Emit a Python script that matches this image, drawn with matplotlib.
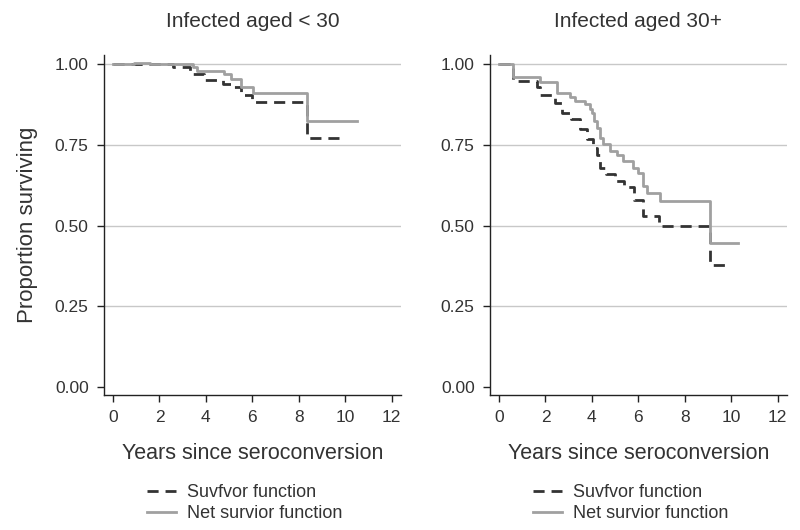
import matplotlib
matplotlib.use("Agg")
import matplotlib.pyplot as plt

plt.rcParams['font.family'] = ['Liberation Sans', 'DejaVu Sans']

# Infected aged < 30: step times (years) and survival after each step
young_surv_t = [0, 2.6, 3.3, 3.9, 4.75, 5.1, 5.5, 6.0, 8.35, 9.8]
young_surv_s = [1.0, 0.992, 0.971, 0.953, 0.94, 0.93, 0.904, 0.882, 0.772, 0.772]
young_net_t = [0, 0.9, 1.6, 3.45, 3.6, 4.8, 5.1, 5.5, 6.05, 8.35, 10.5]
young_net_s = [1.0, 1.004, 1.0, 0.992, 0.979, 0.969, 0.956, 0.93, 0.911, 0.826, 0.826]

# Infected aged 30+
old_surv_t = [0, 0.62, 1.62, 1.77, 2.4, 2.7, 3.1, 3.5, 3.8, 4.05, 4.2, 4.35,
              4.6, 5.0, 5.4, 5.8, 6.2, 6.9, 9.09, 9.8]
old_surv_s = [1.0, 0.948, 0.93, 0.906, 0.88, 0.85, 0.83, 0.80, 0.77, 0.74, 0.72, 0.68,
              0.66, 0.64, 0.62, 0.58, 0.53, 0.50, 0.377, 0.377]
old_net_t = [0, 0.62, 1.77, 2.49, 3.06, 3.28, 3.71, 3.92, 4.0, 4.1, 4.21, 4.35, 4.5,
             4.78, 5.07, 5.36, 5.79, 6.0, 6.22, 6.36, 6.94, 9.09, 10.3]
old_net_s = [1.0, 0.962, 0.945, 0.91, 0.898, 0.888, 0.877, 0.862, 0.85, 0.825, 0.804,
             0.773, 0.752, 0.731, 0.72, 0.70, 0.679, 0.664, 0.622, 0.60, 0.575, 0.445, 0.445]

titles = ["Infected aged < 30", "Infected aged 30+"]
xticks = [0, 2, 4, 6, 8, 10, 12]
yticks = [0.0, 0.25, 0.5, 0.75, 1.0]
labels = ["Suvfvor function", "Net survior function"]

txt = "#333333"
fig = plt.figure(figsize=(8, 5.3), dpi=100)
ax1 = fig.add_axes([0.130, 0.2547, 0.371, 0.642])
ax2 = fig.add_axes([0.6125, 0.2547, 0.371, 0.642])

panels = [(ax1, young_surv_t, young_surv_s, young_net_t, young_net_s),
          (ax2, old_surv_t, old_surv_s, old_net_t, old_net_s)]

for i, (ax, st, ss, nt, ns) in enumerate(panels):
    for y in yticks[1:]:
        ax.axhline(y, color="#c8c8c8", lw=1, zorder=0)
    ax.step(st, ss, where="post", color="#333333", lw=2, dashes=(4, 2.5), label=labels[0])
    ax.step(nt, ns, where="post", color="#a0a0a0", lw=2, label=labels[1])
    ax.set_xlim(-0.39, 12.4)
    ax.set_ylim(-0.025, 1.03)
    ax.set_xticks(xticks)
    ax.set_yticks(yticks)
    ax.set_yticklabels([f"{v:.2f}" for v in yticks])
    for s in ["top", "right"]:
        ax.spines[s].set_visible(False)
    for s in ["left", "bottom"]:
        ax.spines[s].set_color("#222222")
        ax.spines[s].set_linewidth(1)
    ax.tick_params(axis="both", direction="out", length=5, width=1, color="#222222",
                   labelsize=12.5, labelcolor=txt, pad=6)
    ax.set_title(titles[i], fontsize=15, color=txt, pad=20)
    ax.set_xlabel("Years since seroconversion", fontsize=15.5, color=txt, labelpad=13)
    ax.legend(loc="upper left", bbox_to_anchor=(0.12, -0.24), frameon=False,
              fontsize=13, handlelength=1.6, handletextpad=0.6, labelcolor=txt,
              borderaxespad=0, labelspacing=0.25)

ax1.set_ylabel("Proportion surviving", fontsize=16, color=txt, labelpad=12)

fig.savefig("out.png", dpi=100)
